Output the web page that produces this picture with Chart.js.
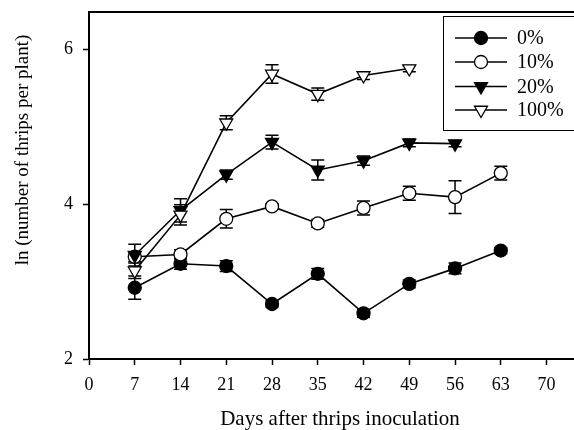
<!DOCTYPE html>
<html>
<head>
<meta charset="utf-8">
<script src="https://cdn.jsdelivr.net/npm/chart.js@4/dist/chart.umd.min.js"></script>
<style>
html,body{margin:0;padding:0;background:#fff;}
#wrap{width:574px;height:430px;}
</style>
</head>
<body>
<div id="wrap"><canvas id="c" width="574" height="430"></canvas></div>
<script>
const days = [7, 14, 21, 28, 35, 42, 49, 56, 63];
const xTicks = [0, 7, 14, 21, 28, 35, 42, 49, 56, 63, 70];
const yTicks = [2, 4, 6];
const seriesLabels = ['0%', '10%', '20%', '100%'];
const xTitle = 'Days after thrips inoculation';
const yTitle = 'ln (number of thrips per plant)';

const vals0   = [2.92, 3.23, 3.20, 2.71, 3.10, 2.59, 2.97, 3.17, 3.40];
const err0    = [0.15, 0.07, 0.07, 0.04, 0.07, 0.05, 0.05, 0.07, 0.04];
const vals10  = [3.32, 3.35, 3.81, 3.97, 3.75, 3.95, 4.14, 4.09, 4.40];
const err10   = [0.06, 0.06, 0.12, 0.03, 0.05, 0.09, 0.09, 0.21, 0.09];
const vals20  = [3.34, 3.92, 4.38, 4.80, 4.44, 4.56, 4.79, 4.78, null];
const err20   = [0.14, 0.15, 0.06, 0.09, 0.13, 0.06, 0.05, 0.04, null];
const vals100 = [3.14, 3.86, 5.05, 5.68, 5.42, 5.66, 5.75, null, null];
const err100  = [0.10, 0.13, 0.09, 0.12, 0.08, 0.05, 0.04, null, null];

const FONT = "'Liberation Serif', 'DejaVu Serif', serif";

function pts(v){ return days.map((d,i)=>({x:d,y:v[i]})).filter(p=>p.y!==null); }

const datasets = [
  {label:seriesLabels[0], data:pts(vals0), err:err0, pointStyle:'circle', pointRadius:6.5, pointBackgroundColor:'#000', order:3},
  {label:seriesLabels[1], data:pts(vals10), err:err10, pointStyle:'circle', pointRadius:6.5, pointBackgroundColor:'#fff', order:2},
  {label:seriesLabels[2], data:pts(vals20), err:err20, pointStyle:'triangle', pointRotation:180, pointRadius:7.5, pointBackgroundColor:'#000', order:1},
  {label:seriesLabels[3], data:pts(vals100), err:err100, pointStyle:'triangle', pointRotation:180, pointRadius:7.5, pointBackgroundColor:'#fff', order:0}
].map(d=>Object.assign({borderColor:'#000', borderWidth:1.6, pointBorderColor:'#000', pointBorderWidth:1.3, pointHoverRadius:d.pointRadius, tension:0, fill:false, clip:false}, d));

const errorBars = {
  id:'errorBars',
  beforeDatasetsDraw(chart){
    const ctx = chart.ctx, xs = chart.scales.x, ys = chart.scales.y;
    ctx.save();
    ctx.strokeStyle = '#000'; ctx.lineWidth = 1.5;
    chart.data.datasets.forEach(ds=>{
      ds.data.forEach(p=>{
        const e = ds.err[days.indexOf(p.x)];
        if (e==null) return;
        const px = xs.getPixelForValue(p.x);
        const y1 = ys.getPixelForValue(p.y + e), y2 = ys.getPixelForValue(p.y - e);
        ctx.beginPath();
        ctx.moveTo(px, y1); ctx.lineTo(px, y2);
        ctx.moveTo(px-6.5, y1); ctx.lineTo(px+6.5, y1);
        ctx.moveTo(px-6.5, y2); ctx.lineTo(px+6.5, y2);
        ctx.stroke();
      });
    });
    ctx.restore();
  }
};

const frame = {
  id:'frame',
  afterDraw(chart){
    const ctx = chart.ctx, a = chart.chartArea;
    ctx.save();
    ctx.strokeStyle = '#000'; ctx.lineWidth = 2;
    ctx.beginPath(); ctx.moveTo(a.left-1, a.top); ctx.lineTo(580, a.top); ctx.stroke();
    // legend box
    ctx.lineWidth = 1;
    ctx.strokeRect(443.5, 16.5, 140, 114);
    const rows = [38, 62, 86.5, 110];
    chart.data.datasets.forEach((ds,i)=>{
      const y = rows[i];
      ctx.lineWidth = 1.6; ctx.strokeStyle = '#000';
      ctx.beginPath(); ctx.moveTo(455, y); ctx.lineTo(507, y); ctx.stroke();
      ctx.fillStyle = ds.pointBackgroundColor; ctx.strokeStyle = '#000'; ctx.lineWidth = 1.3;
      ctx.beginPath();
      if (ds.pointStyle==='circle') { ctx.arc(481, y, ds.pointRadius, 0, Math.PI*2); }
      else { const r = ds.pointRadius;
        for (let k=0;k<3;k++){ const ang = Math.PI/2 + k*2*Math.PI/3; const xx = 481 + r*Math.cos(ang), yy = y + r*Math.sin(ang); if(k===0) ctx.moveTo(xx,yy); else ctx.lineTo(xx,yy);} ctx.closePath(); }
      ctx.fill(); ctx.stroke();
      ctx.fillStyle = '#000'; ctx.font = '20px ' + FONT; ctx.textBaseline = 'middle'; ctx.textAlign = 'left';
      ctx.fillText(ds.label, 517, y+1);
    });
    // x axis title
    ctx.fillStyle = '#000'; ctx.font = '21px ' + FONT; ctx.textAlign = 'center'; ctx.textBaseline = 'alphabetic';
    ctx.fillText(xTitle, 340, 425);
    // y axis title
    ctx.translate(23, 150); ctx.rotate(-Math.PI/2);
    ctx.font = '19px ' + FONT; ctx.textAlign = 'center'; ctx.textBaseline = 'middle';
    ctx.fillText(yTitle, 0, 0);
    ctx.restore();
  }
};

new Chart(document.getElementById('c'), {
  type:'line',
  data:{datasets},
  plugins:[errorBars, frame],
  options:{
    responsive:false, animation:false,
    layout:{autoPadding:false, padding:{left:0, right:0, top:12, bottom:0}},
    plugins:{legend:{display:false}, tooltip:{enabled:false}},
    scales:{
      x:{type:'linear', min:0, max:74.2,
        afterBuildTicks(s){ s.ticks = xTicks.map(v=>({value:v})); },
        afterFit(s){ s.height = 71; s.paddingLeft = 0; s.paddingRight = 0; },
        grid:{drawOnChartArea:false, tickLength:6, color:'#000', tickWidth:1.5},
        border:{color:'#000', width:2},
        ticks:{color:'#000', font:{family:FONT, size:18}, padding:9, maxRotation:0, autoSkip:false}
      },
      y:{type:'linear', min:2, max:6.48,
        afterBuildTicks(s){ s.ticks = yTicks.map(v=>({value:v})); },
        afterFit(s){ s.width = 89; s.paddingTop = 0; s.paddingBottom = 0; },
        grid:{drawOnChartArea:false, tickLength:6, color:'#000', tickWidth:1.5},
        border:{color:'#000', width:2},
        ticks:{color:'#000', font:{family:FONT, size:18}, padding:10, autoSkip:false}
      }
    }
  }
});
</script>
</body>
</html>
